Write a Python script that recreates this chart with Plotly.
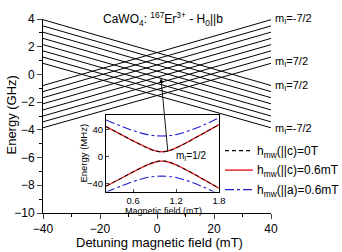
import plotly.graph_objects as go

# ---------------- data ----------------
# main panel: hyperfine levels (straight lines between the ends of the detuning range)
x_ends = [-40, 40]
# electron-spin branch with negative slope (top-left -> bottom-right), m_I = 7/2 ... -7/2
down_left = [3.95, 3.5, 3.05, 2.6, 2.15, 1.7, 1.25, 0.8]
down_right = [-0.8, -1.24, -1.68, -2.12, -2.56, -3.0, -3.42, -3.85]
# electron-spin branch with positive slope (bottom-left -> top-right), m_I = -7/2 ... 7/2
up_left = [-0.8, -1.24, -1.68, -2.12, -2.56, -3.0, -3.42, -3.85]
up_right = [3.95, 3.5, 3.05, 2.6, 2.15, 1.7, 1.25, 0.8]

# inset: anticrossing of m_I = 1/2 levels (MHz vs mT)
inset_x = [0.22, 0.4, 0.6, 0.8, 0.9, 1.0, 1.1, 1.2, 1.4, 1.6, 1.8]
black_up = [45.0, 35.0, 23.5, 13.0, 8.8, 7.0, 8.8, 13.0, 24.0, 36.0, 48.0]
black_dn = [-44.0, -34.0, -22.5, -12.0, -7.8, -6.0, -7.8, -12.0, -23.0, -35.0, -47.0]
red_up = [45.0, 35.0, 23.6, 13.3, 9.2, 7.5, 9.2, 13.3, 24.1, 36.0, 48.0]
red_dn = [-44.0, -34.0, -22.6, -12.3, -8.2, -6.5, -8.2, -12.3, -23.1, -35.0, -47.0]
blue_up = [55.0, 47.0, 39.0, 33.0, 31.5, 31.0, 31.5, 33.0, 39.5, 48.0, 58.0]
blue_dn = [-53.0, -45.0, -37.0, -31.0, -29.5, -29.0, -29.5, -31.0, -37.5, -46.0, -56.0]

legend_labels = ["h<sub>mw</sub>(||c)=0T", "h<sub>mw</sub>(||c)=0.6mT", "h<sub>mw</sub>(||a)=0.6mT"]
level_labels = ["m<sub>I</sub>=-7/2", "m<sub>I</sub>=7/2", "m<sub>I</sub>=7/2", "m<sub>I</sub>=-7/2"]
level_label_y = [4.0, 0.9, -0.85, -3.95]

FONT = "Liberation Sans, Arial, sans-serif"

# ---------------- geometry (pixels) ----------------
W, H = 342, 252
L, R, T, B = 43, 71, 14, 39
PW, PH = W - L - R, H - T - B


def px(xp):
    return (xp - L) / PW


def py(yp):
    return (H - B - yp) / PH


fig = go.Figure()

for yl, yr in zip(down_left, down_right):
    fig.add_trace(go.Scatter(x=x_ends, y=[yl, yr], mode="lines",
                             line=dict(color="black", width=1), showlegend=False,
                             hoverinfo="skip", xaxis="x", yaxis="y"))
for yl, yr in zip(up_left, up_right):
    fig.add_trace(go.Scatter(x=x_ends, y=[yl, yr], mode="lines",
                             line=dict(color="black", width=1), showlegend=False,
                             hoverinfo="skip", xaxis="x", yaxis="y"))

# inset traces
for ys in (blue_up, blue_dn):
    fig.add_trace(go.Scatter(x=inset_x, y=ys, mode="lines", line_shape="spline",
                             line=dict(color="#1f1fd0", width=1.1, dash="dashdot"),
                             showlegend=False, xaxis="x2", yaxis="y2"))
for ys in (red_up, red_dn):
    fig.add_trace(go.Scatter(x=inset_x, y=ys, mode="lines", line_shape="spline",
                             line=dict(color="#e8282b", width=1.4),
                             showlegend=False, xaxis="x2", yaxis="y2"))
for ys in (black_up, black_dn):
    fig.add_trace(go.Scatter(x=inset_x, y=ys, mode="lines", line_shape="spline",
                             line=dict(color="black", width=1.0, dash="4px,3px"),
                             showlegend=False, xaxis="x2", yaxis="y2"))

inset_dom_x = [px(106), px(219)]
inset_dom_y = [py(191), py(112)]

fig.update_layout(
    width=W, height=H,
    margin=dict(l=L, r=R, t=T, b=B),
    paper_bgcolor="white", plot_bgcolor="white",
    font=dict(family=FONT, size=12, color="black"),
    showlegend=False,
    xaxis=dict(range=[-40, 40], domain=[0, 1], anchor="y",
               tickvals=[-40, -20, 0, 20, 40], ticks="outside", ticklen=5,
               tickwidth=1, showline=True, linecolor="black", linewidth=1,
               showgrid=False, zeroline=False, mirror=False,
               tickfont=dict(size=12),
               minor=dict(tickvals=[-30, -10, 10, 30], ticks="outside",
                          ticklen=3, tickcolor="black", showgrid=False)),
    yaxis=dict(range=[-10, 4], domain=[0, 1], anchor="x",
               tickvals=[-10, -8, -6, -4, -2, 0, 2, 4], ticks="outside", ticklen=5,
               tickwidth=1, showline=True, linecolor="black", linewidth=1,
               showgrid=False, zeroline=False, mirror=False,
               tickfont=dict(size=12),
               minor=dict(tickvals=[-9, -7, -5, -3, -1, 1, 3], ticks="outside",
                          ticklen=3, tickcolor="black", showgrid=False)),
    xaxis2=dict(range=[0.22, 1.8], domain=inset_dom_x, anchor="y2",
                tickvals=[0.6, 1.2, 1.8], ticktext=["0.6", "1.2", "1.8"],
                ticks="inside", ticklen=3, tickwidth=1,
                showline=True, linecolor="black", linewidth=1, mirror=True,
                showgrid=False, zeroline=False, tickfont=dict(size=9.5)),
    yaxis2=dict(range=[-52, 63], domain=inset_dom_y, anchor="x2",
                tickvals=[-40, 0, 40], ticks="inside", ticklen=3, tickwidth=1,
                showline=True, linecolor="black", linewidth=1, mirror=True,
                showgrid=False, zeroline=False, tickfont=dict(size=9.5)),
)

ann = []
# title
ann.append(dict(text="CaWO<sub>4</sub>: <sup>167</sup>Er<sup>3+</sup> - H<sub>0</sub>||b",
                xref="paper", yref="paper", x=px(163), y=py(14), showarrow=False,
                xanchor="center", yanchor="middle", font=dict(size=12)))
# axis titles
ann.append(dict(text="Detuning magnetic field (mT)", xref="paper", yref="paper",
                x=px(159), y=py(243), showarrow=False, xanchor="center",
                yanchor="middle", font=dict(size=13)))
ann.append(dict(text="Energy (GHz)", xref="paper", yref="paper", x=px(12), y=py(113),
                showarrow=False, textangle=-90, xanchor="center", yanchor="middle",
                font=dict(size=13)))
ann.append(dict(text="Magnetic field (mT)", xref="paper", yref="paper", x=px(163),
                y=py(205), showarrow=False, xanchor="center", yanchor="top",
                font=dict(size=9), borderpad=0))
ann.append(dict(text="Energy (MHz)", xref="paper", yref="paper", x=px(84), y=py(152),
                showarrow=False, textangle=-90, xanchor="center", yanchor="middle",
                font=dict(size=9.5)))
ann.append(dict(text="m<sub>I</sub>=1/2", xref="paper", yref="paper", x=px(191),
                y=py(155), showarrow=False, xanchor="center", yanchor="middle",
                font=dict(size=10)))
# level labels at the right end
for lab, yv in zip(level_labels, level_label_y):
    ann.append(dict(text=lab, xref="x", yref="y", x=40, y=yv, xshift=2,
                    showarrow=False, xanchor="left", yanchor="middle",
                    font=dict(size=11)))
# arrow from inset to crossing
ann.append(dict(text="", xref="paper", yref="paper", x=px(161), y=py(75),
                ax=7, ay=75, showarrow=True, arrowhead=2, arrowsize=1,
                arrowwidth=0.9, arrowcolor="black"))
# legend
leg_y = [149, 169, 189]
leg_style = [dict(color="black", width=1.1, dash="4px,3px"),
             dict(color="#e8282b", width=1.5),
             dict(color="#1f1fd0", width=1.1, dash="dashdot")]
shapes = []
for lab, yy, st in zip(legend_labels, leg_y, leg_style):
    shapes.append(dict(type="line", xref="paper", yref="paper",
                       x0=px(225), x1=px(253), y0=py(yy), y1=py(yy), line=st))
    ann.append(dict(text=lab, xref="paper", yref="paper", x=px(255), y=py(yy + 1),
                    showarrow=False, xanchor="left", yanchor="middle",
                    font=dict(size=12)))

fig.update_layout(annotations=ann, shapes=shapes)
fig.write_html("out.html")
